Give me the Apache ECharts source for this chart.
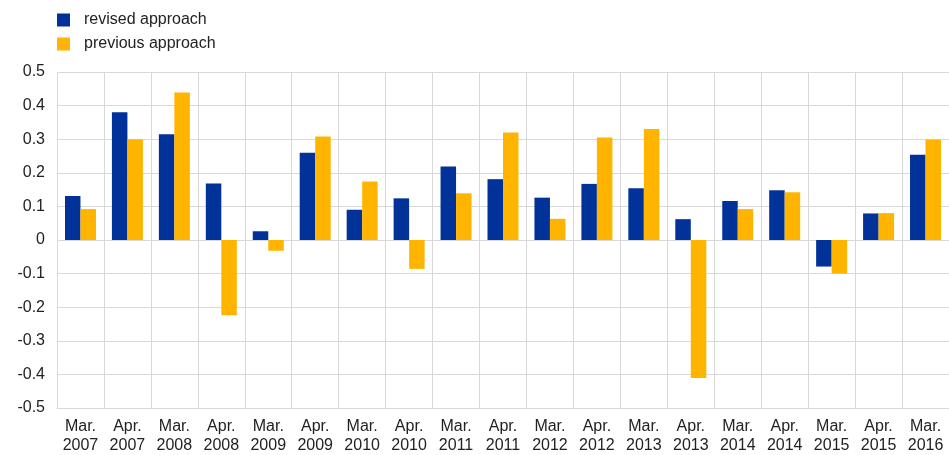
<!DOCTYPE html>
<html>
<head>
<meta charset="utf-8">
<script src="https://cdn.jsdelivr.net/npm/echarts@6/dist/echarts.min.js"></script>
<style>
  html, body { margin: 0; padding: 0; background: #fff; }
  #chart { width: 949px; height: 455px; }
</style>
</head>
<body>
<div id="chart"></div>
<script>
var categories = ['Mar.\n2007', 'Apr.\n2007', 'Mar.\n2008', 'Apr.\n2008', 'Mar.\n2009', 'Apr.\n2009',
	'Mar.\n2010', 'Apr.\n2010', 'Mar.\n2011', 'Apr.\n2011', 'Mar.\n2012', 'Apr.\n2012',
	'Mar.\n2013', 'Apr.\n2013', 'Mar.\n2014', 'Apr.\n2014', 'Mar.\n2015', 'Apr.\n2015', 'Mar.\n2016'];

var revised = [0.131, 0.380, 0.315, 0.168, 0.026, 0.260, 0.090, 0.124, 0.219, 0.181,
	0.126, 0.167, 0.154, 0.062, 0.116, 0.148, -0.079, 0.079, 0.254];

var previous = [0.092, 0.300, 0.439, -0.224, -0.032, 0.308, 0.174, -0.086, 0.139, 0.320,
	0.063, 0.305, 0.330, -0.411, 0.092, 0.142, -0.100, 0.080, 0.299];

var seriesNames = ['revised approach', 'previous approach'];

var gridColor = '#d9d9d9';
var textColor = '#222';
var fontFamily = 'Liberation Sans, Arial, sans-serif';

var chart = echarts.init(document.getElementById('chart'));

chart.setOption({
	animation: false,
	legend: {
		orient: 'vertical',
		left: 57,
		top: 12,
		padding: 0,
		itemWidth: 13,
		itemHeight: 13,
		itemGap: 8,
		icon: 'rect',
		textStyle: {
			fontFamily: fontFamily,
			fontSize: 16,
			lineHeight: 13,
			color: textColor,
			padding: [0, 0, 0, 9]
		},
		data: seriesNames
	},
	grid: {
		left: 57,
		right: 0,
		top: 72,
		bottom: 45
	},
	xAxis: {
		type: 'category',
		data: categories,
		axisLine: { show: true, onZero: false, lineStyle: { color: gridColor } },
		axisTick: { show: false },
		splitLine: { show: true, lineStyle: { color: gridColor } },
		axisLabel: {
			interval: 0,
			fontFamily: fontFamily,
			fontSize: 16,
			color: textColor,
			lineHeight: 19,
			margin: 9
		}
	},
	yAxis: {
		type: 'value',
		min: -0.5,
		max: 0.5,
		interval: 0.1,
		axisLine: { show: false },
		axisTick: { show: false },
		splitLine: { show: true, lineStyle: { color: gridColor } },
		axisLabel: {
			fontFamily: fontFamily,
			fontSize: 16,
			color: textColor,
			margin: 12,
			formatter: function(v) {
				var r = Math.round(v * 10) / 10;
				return r === 0 ? '0' : String(r);
			}
		}
	},
	series: [
		{
			name: seriesNames[0],
			type: 'bar',
			data: revised,
			barWidth: 15.5,
			barGap: '0%',
			itemStyle: { color: '#003299' }
		},
		{
			name: seriesNames[1],
			type: 'bar',
			data: previous,
			barWidth: 15.5,
			itemStyle: { color: '#ffb400' }
		}
	]
});
</script>
</body>
</html>
